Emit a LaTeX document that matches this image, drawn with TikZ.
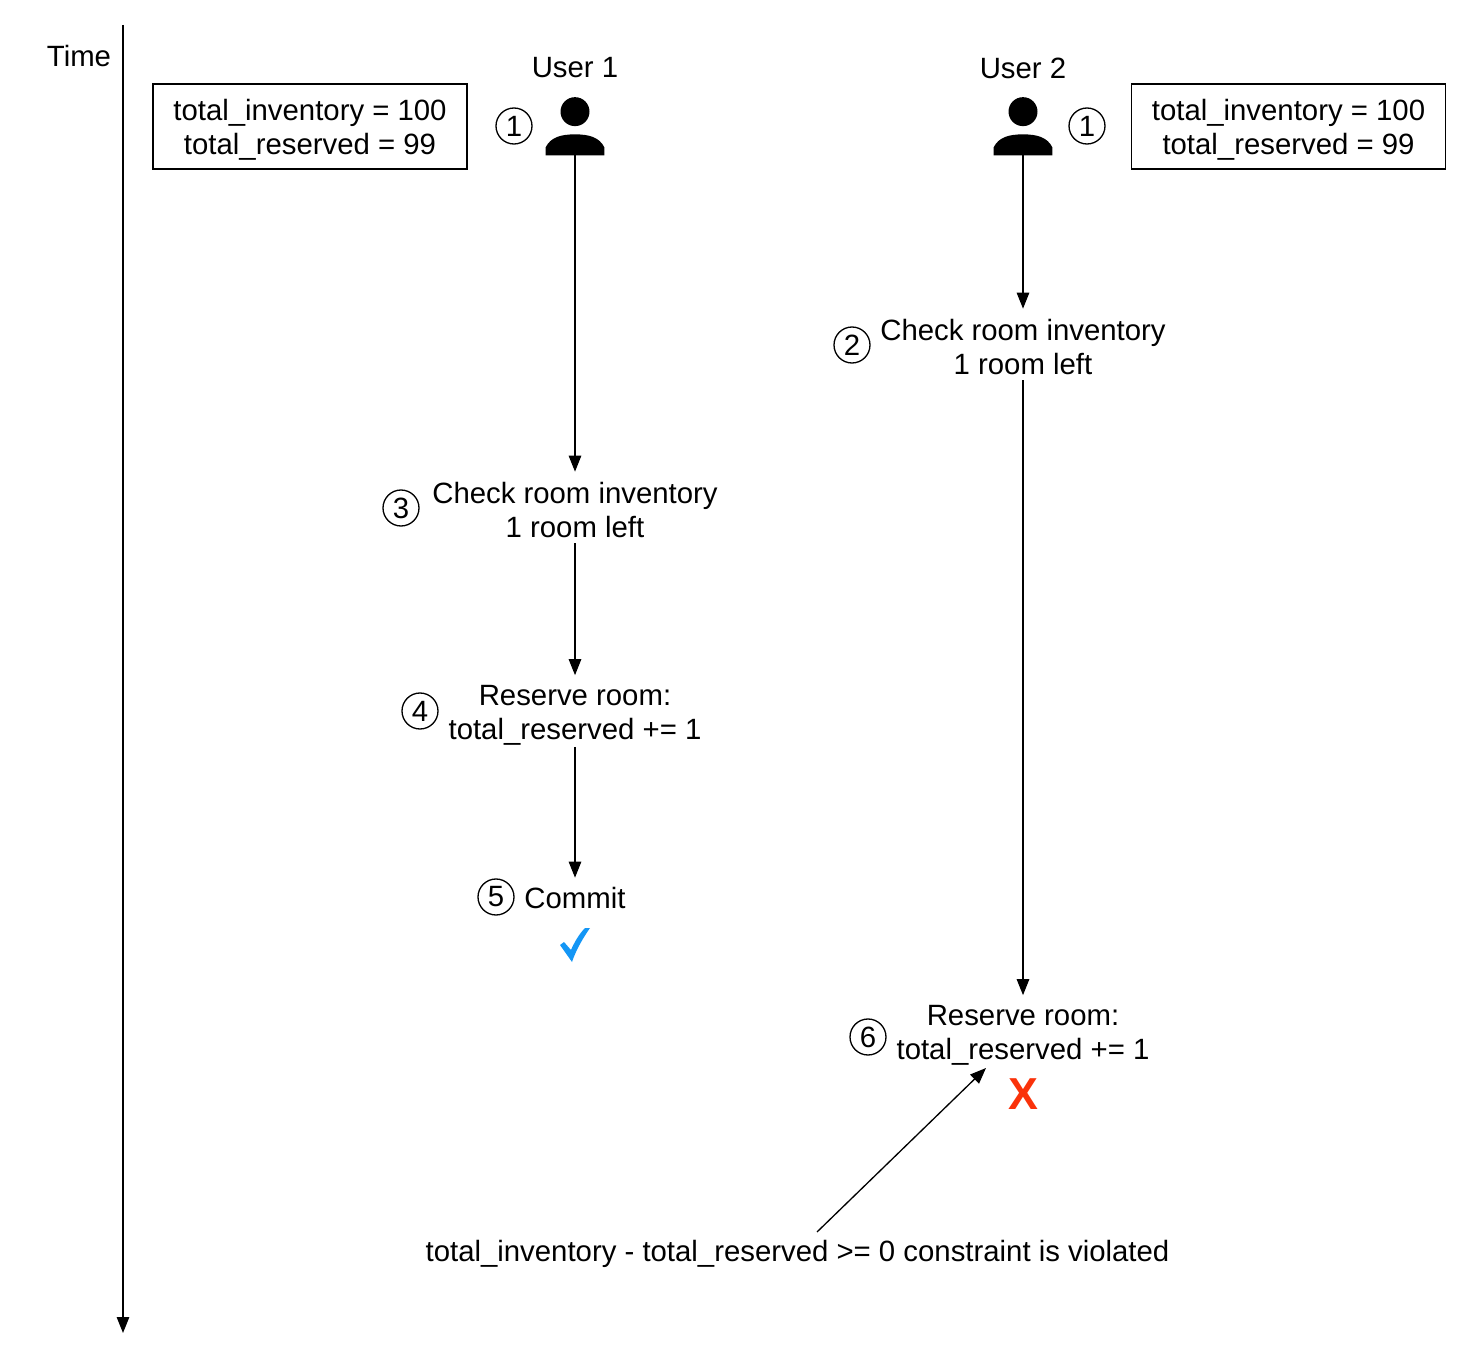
\documentclass[tikz,border=0pt]{standalone}
\usepackage{fontspec}
\usepackage{xcolor}
\setmainfont{Liberation Sans}
\usetikzlibrary{arrows.meta, positioning}

% taller first line, pushes the two lines down inside the node
\newcommand{\toplift}[1]{\rule{0pt}{#1}}

\begin{document}
\begin{tikzpicture}[
    x=0.02cm,
    y=-0.02cm,
    >={Triangle[length=0.32cm,width=0.25cm]},
    font=\fontsize{16.7}{19.35}\selectfont,
    label/.style={inner sep=0pt, align=center},
    stepnum/.style={circle, draw, line width=0.75pt, inner sep=0pt, minimum size=0.72cm},
    action/.style={inner sep=0pt, align=center, minimum width=6cm, minimum height=1.42cm},
    single/.style={inner sep=0pt, align=center, minimum width=6cm, minimum height=0.8cm},
    valuebox/.style={rectangle, draw, line width=0.75pt, inner sep=0pt, align=center, minimum width=6.28cm, minimum height=1.7cm},
    usericon/.style={inner sep=0pt, minimum width=1.16cm, minimum height=1.16cm},
    arrow/.style={->, line width=0.75pt}
]
\useasboundingbox (0,0) rectangle (1478,1368);

% time axis
\coordinate (tstart) at (123,25);
\coordinate (tend) at (123,1333);
\draw[arrow] (tstart) -- (tend);
\node[label] (time) at (79,56) {Time};

% users
\node[label] (user1) at (575,68) {User 1};
\node[label] (user2) at (1023,68) {User 2};
\node[usericon] (icon1) at (575,126) {};
\node[usericon] (icon2) at (1023,126) {};
\foreach \who in {icon1,icon2} {
    \fill ([yshift=-0.3cm]\who.north) circle (0.29cm);
    \fill (\who.south west) -- ([yshift=0.16cm]\who.south west)
        .. controls ([shift={(0.1cm,0.36cm)}]\who.south west) and ([shift={(0.3cm,0.42cm)}]\who.south west) .. ([yshift=0.42cm]\who.south)
        .. controls ([shift={(-0.3cm,0.42cm)}]\who.south east) and ([shift={(-0.1cm,0.36cm)}]\who.south east) .. ([yshift=0.16cm]\who.south east)
        -- (\who.south east) -- cycle;
}

% start values
\node[valuebox] (values1) at (310,126.5) {\toplift{15.6pt}total\_inventory = 100\\total\_reserved = 99};
\node[valuebox] (values2) at (1288.5,126.5) {\toplift{15.6pt}total\_inventory = 100\\total\_reserved = 99};

% steps
\node[action] (check2) at (1023,344.5) {\toplift{14.4pt}Check room inventory\\1 room left};
\node[action] (check1) at (575,507.5) {\toplift{14.4pt}Check room inventory\\1 room left};
\node[action] (reserve1) at (575,711) {\toplift{16.6pt}Reserve room:\\total\_reserved += 1};
\node[single] (commit) at (575,898) {Commit};
\node[action] (reserve2) at (1023,1031) {\toplift{16.6pt}Reserve room:\\total\_reserved += 1};
\node[label] (violated) at (797.5,1254) {total\_inventory - total\_reserved >= 0 constraint is violated};

% numbers
\node[stepnum] (n1a) at (514,126) {1};
\node[stepnum] (n1b) at (1087,126) {1};
\node[stepnum] (n2) at (852,345) {2};
\node[stepnum] (n3) at (401,508) {3};
\node[stepnum] (n4) at (420,711) {4};
\node[stepnum] (n5) at (496,897) {5};
\node[stepnum] (n6) at (868,1037) {6};

% outcome marks
\fill[color={rgb,255:red,20;green,150;blue,245}] (560,945) -- (564,942) -- (571,950)
    .. controls (574,943) and (579,934) .. (585,928) -- (590,928)
    .. controls (583,938) and (576,950) .. (572,962) -- cycle;
\node[inner sep=0pt, text={rgb,255:red,250;green,50;blue,10}, font=\fontsize{25.5}{30}\selectfont\bfseries] (fail) at (1023,1094) {X};

% connections
\draw[arrow] (icon1.south) -- (check1.north);
\draw[arrow] (check1.south) -- (reserve1.north);
\draw[arrow] (reserve1.south) -- (commit.north);
\draw[arrow] (icon2.south) -- (check2.north);
\draw[arrow] (check2.south) -- (reserve2.north);

\coordinate (vstart) at (817,1232);
\coordinate (vend) at (986,1068);
\draw[arrow] (vstart) -- (vend);

\end{tikzpicture}
\end{document}
